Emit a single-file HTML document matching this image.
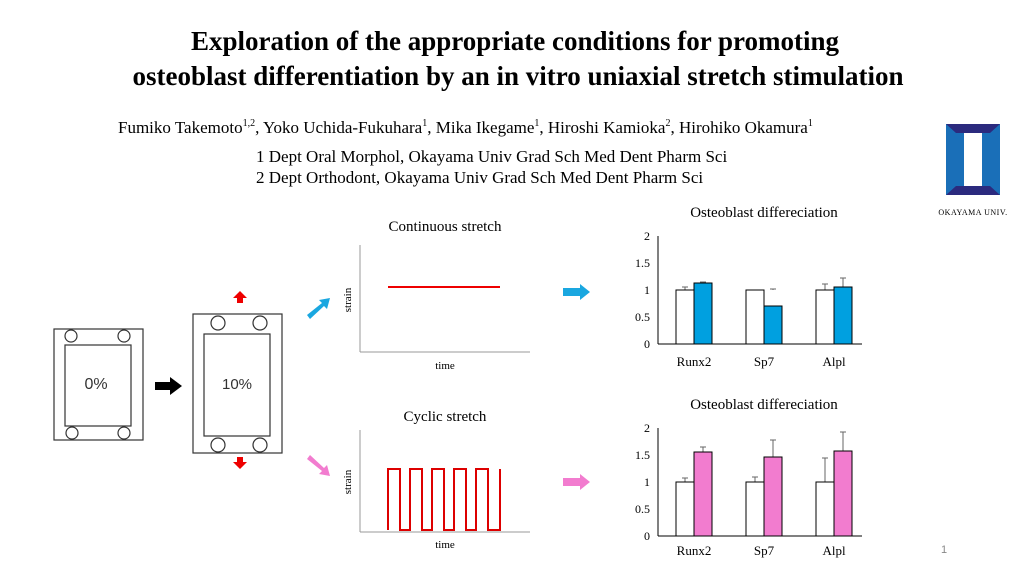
<!DOCTYPE html>
<html><head><meta charset="utf-8"><style>
body{margin:0;width:1024px;height:576px;background:#fff;overflow:hidden;font-family:"Liberation Serif",serif}
</style></head><body>
<svg width="1024" height="576" xmlns="http://www.w3.org/2000/svg" font-family="Liberation Serif, serif">
<text x="515" y="50" text-anchor="middle" font-size="27" font-weight="bold">Exploration of the appropriate conditions for promoting</text>
<text x="518" y="85" text-anchor="middle" font-size="27" font-weight="bold">osteoblast differentiation by an in vitro uniaxial stretch stimulation</text>
<text x="118" y="133" font-size="17">Fumiko Takemoto<tspan font-size="10" dy="-7">1,2</tspan><tspan dy="7">, Yoko Uchida-Fukuhara</tspan><tspan font-size="10" dy="-7">1</tspan><tspan dy="7">, Mika Ikegame</tspan><tspan font-size="10" dy="-7">1</tspan><tspan dy="7">, Hiroshi Kamioka</tspan><tspan font-size="10" dy="-7">2</tspan><tspan dy="7">, Hirohiko Okamura</tspan><tspan font-size="10" dy="-7">1</tspan></text>
<text x="256" y="162" font-size="17">1 Dept Oral Morphol, Okayama Univ Grad Sch Med Dent Pharm Sci</text>
<text x="256" y="183" font-size="17">2 Dept Orthodont, Okayama Univ Grad Sch Med Dent Pharm Sci</text>
<rect x="946" y="124" width="18" height="71" fill="#1a6fb8"/>
<rect x="982" y="124" width="18" height="71" fill="#1a6fb8"/>
<polygon points="946,124 1000,124 990,133 956,133" fill="#2b2a7e"/>
<polygon points="946,195 1000,195 990,186 956,186" fill="#2b2a7e"/>
<text x="973" y="215" text-anchor="middle" font-size="8" letter-spacing="0.5">OKAYAMA UNIV.</text>
<g fill="none" stroke="#333" stroke-width="1.2">
<rect x="54" y="329" width="89" height="111"/>
<rect x="65" y="345" width="66" height="81"/>
<circle cx="71" cy="336" r="6"/><circle cx="124" cy="336" r="6"/>
<circle cx="72" cy="433" r="6"/><circle cx="124" cy="433" r="6"/>
<rect x="193" y="314" width="89" height="139"/>
<rect x="204" y="334" width="66" height="102"/>
<circle cx="218" cy="323" r="7"/><circle cx="260" cy="323" r="7"/>
<circle cx="218" cy="445" r="7"/><circle cx="260" cy="445" r="7"/>
</g>
<text x="96" y="389" text-anchor="middle" font-family="Liberation Sans, sans-serif" font-size="16" fill="#333">0%</text>
<text x="237" y="389" text-anchor="middle" font-family="Liberation Sans, sans-serif" font-size="15" fill="#333">10%</text>
<polygon points="155,382 170,382 170,377 182,386 170,395 170,390 155,390" fill="#000"/>
<polygon points="237,303 237,298 233,298 240,291 247,298 243,298 243,303" fill="#e00"/>
<polygon points="237,457 237,462 233,462 240,469 247,462 243,462 243,457" fill="#e00"/>
<polygon points="307,315 322,303 319,300 330,298 327,309 324,306 310,319" fill="#1aa7e0"/>
<polygon points="307,459 322,471 319,474 330,476 327,465 324,468 310,455" fill="#f27ccf"/>
<polygon points="563,288 580,288 580,284 590,292 580,300 580,296 563,296" fill="#1aa7e0"/>
<polygon points="563,478 580,478 580,474 590,482 580,490 580,486 563,486" fill="#f27ccf"/>
<text x="445" y="231" text-anchor="middle" font-size="15">Continuous stretch</text>
<line x1="360" y1="245" x2="360" y2="352" stroke="#999"/><line x1="360" y1="352" x2="530" y2="352" stroke="#999"/>
<line x1="388" y1="287" x2="500" y2="287" stroke="#e00" stroke-width="2"/>
<text transform="translate(351,300) rotate(-90)" text-anchor="middle" font-size="11">strain</text>
<text x="445" y="369" text-anchor="middle" font-size="11">time</text>
<text x="445" y="421" text-anchor="middle" font-size="15">Cyclic stretch</text>
<line x1="360" y1="430" x2="360" y2="532" stroke="#999"/><line x1="360" y1="532" x2="530" y2="532" stroke="#999"/>
<polyline fill="none" stroke="#d00" stroke-width="2" points="388,530 388,469 400,469 400,530 410,530 410,469 422,469 422,530 432,530 432,469 444,469 444,530 454,530 454,469 466,469 466,530 476,530 476,469 488,469 488,530 500,530 500,469"/>
<text transform="translate(351,482) rotate(-90)" text-anchor="middle" font-size="11">strain</text>
<text x="445" y="548" text-anchor="middle" font-size="11">time</text>
<g font-size="12">
<text x="764" y="217" text-anchor="middle" font-size="15">Osteoblast differeciation</text>
<line x1="658" y1="236" x2="658" y2="344" stroke="#000"/><line x1="658" y1="344" x2="862" y2="344" stroke="#000"/>
<g text-anchor="end"><text x="650" y="240">2</text><text x="650" y="267">1.5</text><text x="650" y="294">1</text><text x="650" y="321">0.5</text><text x="650" y="348">0</text></g>
<g stroke="#666" stroke-width="1">
<path d="M685 290V287M682 287H688M703 283V282M700 282H706M773 290V289M770 289H776M825 290V284M822 284H828M843 287V278M840 278H846"/>
</g>
<g stroke="#000">
<rect x="676" y="290" width="18" height="54" fill="#fff"/><rect x="694" y="283" width="18" height="61" fill="#00a0e0"/>
<rect x="746" y="290" width="18" height="54" fill="#fff"/><rect x="764" y="306" width="18" height="38" fill="#00a0e0"/>
<rect x="816" y="290" width="18" height="54" fill="#fff"/><rect x="834" y="287" width="18" height="57" fill="#00a0e0"/>
</g>
<g text-anchor="middle" font-size="13"><text x="694" y="366">Runx2</text><text x="764" y="366">Sp7</text><text x="834" y="366">Alpl</text></g>
</g>
<g font-size="12">
<text x="764" y="409" text-anchor="middle" font-size="15">Osteoblast differeciation</text>
<line x1="658" y1="428" x2="658" y2="536" stroke="#000"/><line x1="658" y1="536" x2="862" y2="536" stroke="#000"/>
<g text-anchor="end"><text x="650" y="432">2</text><text x="650" y="459">1.5</text><text x="650" y="486">1</text><text x="650" y="513">0.5</text><text x="650" y="540">0</text></g>
<g stroke="#666" stroke-width="1">
<path d="M685 482V478M682 478H688M703 452V447M700 447H706M755 482V477M752 477H758M773 457V440M770 440H776M825 482V458M822 458H828M843 451V432M840 432H846"/>
</g>
<g stroke="#000">
<rect x="676" y="482" width="18" height="54" fill="#fff"/><rect x="694" y="452" width="18" height="84" fill="#f27ccf"/>
<rect x="746" y="482" width="18" height="54" fill="#fff"/><rect x="764" y="457" width="18" height="79" fill="#f27ccf"/>
<rect x="816" y="482" width="18" height="54" fill="#fff"/><rect x="834" y="451" width="18" height="85" fill="#f27ccf"/>
</g>
<g text-anchor="middle" font-size="13"><text x="694" y="555">Runx2</text><text x="764" y="555">Sp7</text><text x="834" y="555">Alpl</text></g>
</g>
<text x="941" y="553" font-family="Liberation Sans, sans-serif" font-size="11" fill="#888">1</text>
</svg>
</body></html>
